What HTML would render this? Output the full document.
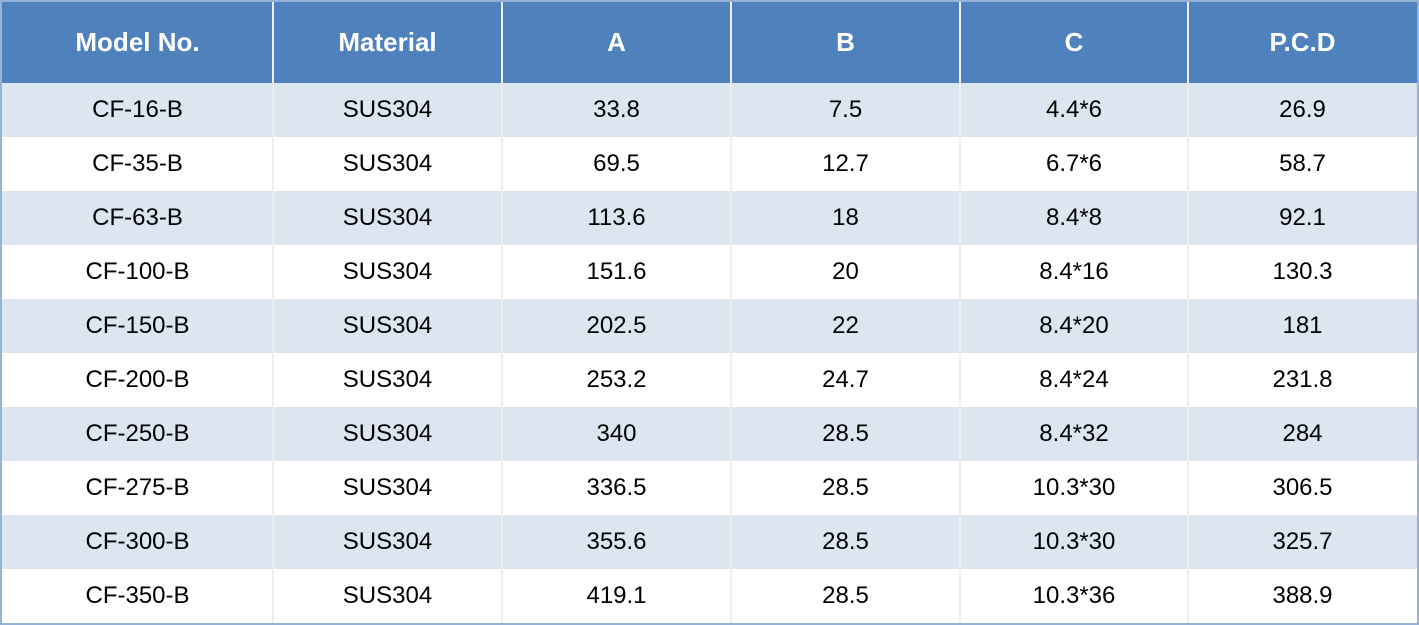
<!DOCTYPE html>
<html><head><meta charset="utf-8"><style>
html,body{margin:0;padding:0;background:#fff}
#t{position:absolute;left:0;top:0;width:1415px;height:621px;border:2px solid #95b3d7;overflow:hidden;font-family:"Liberation Sans",sans-serif}
.c{position:absolute;display:flex;align-items:center;justify-content:center;box-sizing:border-box}
.h{background:#4f81bd;color:#fff;font-weight:bold;font-size:26px}
.d{font-size:24px;color:#000}
.vl{position:absolute;width:2px;background:#eeeeee;top:0}
</style></head><body>
<div id="t"></div>
<script>
const headers=["Model No.","Material","A","B","C","P.C.D"];
const models=["CF-16-B","CF-35-B","CF-63-B","CF-100-B","CF-150-B","CF-200-B","CF-250-B","CF-275-B","CF-300-B","CF-350-B"];
const materials=["SUS304","SUS304","SUS304","SUS304","SUS304","SUS304","SUS304","SUS304","SUS304","SUS304"];
const colA=["33.8","69.5","113.6","151.6","202.5","253.2","340","336.5","355.6","419.1"];
const colB=["7.5","12.7","18","20","22","24.7","28.5","28.5","28.5","28.5"];
const colC=["4.4*6","6.7*6","8.4*8","8.4*16","8.4*20","8.4*24","8.4*32","10.3*30","10.3*30","10.3*36"];
const colP=["26.9","58.7","92.1","130.3","181","231.8","284","306.5","325.7","388.9"];
const t=document.getElementById('t');
const xs=[0,271,500,729,958,1186,1415];
const cols=[models,materials,colA,colB,colC,colP];
const hh=81,rh=54;
function cell(x,y,w,h,txt,cls,bg){const e=document.createElement('div');e.className='c '+cls;e.style.left=x+'px';e.style.top=y+'px';e.style.width=w+'px';e.style.height=h+'px';if(bg)e.style.background=bg;e.textContent=txt;t.appendChild(e);return e;}
for(let j=0;j<6;j++){const e=cell(xs[j],0,xs[j+1]-xs[j],hh,headers[j],'h');

}
for(let i=0;i<models.length;i++){const bg=i%2===0?'#dce6f1':'#ffffff';
for(let j=0;j<6;j++){const e=cell(xs[j],hh+i*rh,xs[j+1]-xs[j],rh,cols[j][i],'d',bg);

}}
for(let j=1;j<6;j++){const v=document.createElement('div');v.className='vl';v.style.left=(xs[j]-1)+'px';v.style.height='621px';


t.appendChild(v);}
</script>
</body></html>
